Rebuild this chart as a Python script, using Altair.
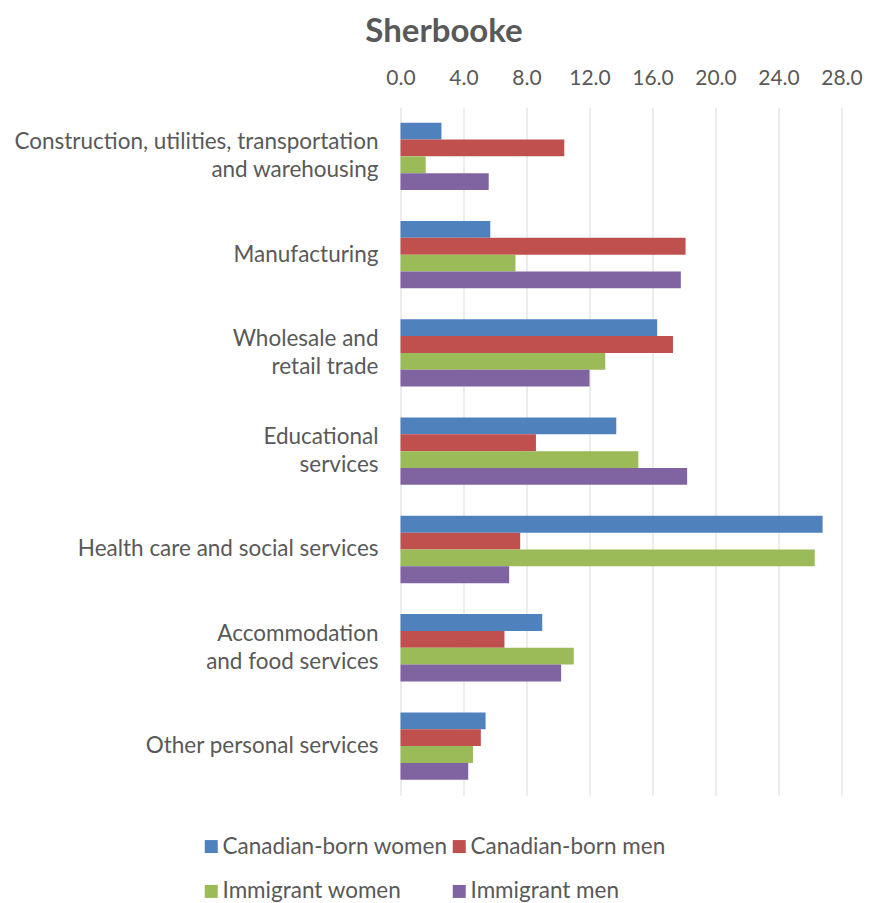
import altair as alt
import pandas as pd

categories = [
    "Construction, utilities, transportation\nand warehousing",
    "Manufacturing",
    "Wholesale and\nretail trade",
    "Educational\nservices",
    "Health care and social services",
    "Accommodation\nand food services",
    "Other personal services",
]
series = ["Canadian-born women", "Canadian-born men", "Immigrant women", "Immigrant men"]
colors = ["#4F81BD", "#C0504D", "#9BBB59", "#8064A2"]

cb_women = [2.6, 5.7, 16.3, 13.7, 26.8, 9.0, 5.4]
cb_men = [10.4, 18.1, 17.3, 8.6, 7.6, 6.6, 5.1]
imm_women = [1.6, 7.3, 13.0, 15.1, 26.3, 11.0, 4.6]
imm_men = [5.6, 17.8, 12.0, 18.2, 6.9, 10.2, 4.3]
x_ticks = [0, 4, 8, 12, 16, 20, 24, 28]

rows = []
for s, vals in zip(series, [cb_women, cb_men, imm_women, imm_men]):
    for c, v in zip(categories, vals):
        rows.append({"category": c, "series": s, "value": v})
df = pd.DataFrame(rows)

FONT = "Lato"
TXT = "#595959"

chart = (
    alt.Chart(df)
    .mark_bar()
    .encode(
        x=alt.X(
            "value:Q",
            scale=alt.Scale(domain=[0, 28], nice=False),
            axis=alt.Axis(
                orient="top",
                values=x_ticks,
                format=".1f",
                title=None,
                domain=False,
                ticks=False,
                tickSize=0,
                labelFlush=False,
                labelOverlap=False,
                labelPadding=23,
                labelBaseline="alphabetic",
                labelFontSize=21,
                labelColor=TXT,
                labelFont=FONT,
                grid=True,
                gridColor="#D9D9D9",
                gridWidth=1,
            ),
        ),
        y=alt.Y(
            "category:N",
            sort=categories,
            scale=alt.Scale(paddingInner=0.315, paddingOuter=0.1575),
            axis=alt.Axis(
                title=None,
                domain=False,
                ticks=False,
                tickSize=0,
                grid=False,
                labelExpr="split(datum.label, '\\n')",
                labelOffset={"condition": {"test": "indexof(datum.label, '\\n') >= 0", "value": -14}, "value": 0},
                labelPadding=22.5,
                labelFontSize=22.5,
                labelLineHeight=28,
                labelColor=TXT,
                labelFont=FONT,
                labelLimit=500,
            ),
        ),
        yOffset=alt.YOffset("series:N", sort=series, scale=alt.Scale(paddingInner=0, paddingOuter=0)),
        color=alt.Color(
            "series:N",
            sort=series,
            scale=alt.Scale(domain=series, range=colors),
            legend=alt.Legend(
                title=None,
                orient="none",
                legendX=-200.5,
                legendY=728,
                columns=2,
                direction="horizontal",
                symbolType="square",
                symbolSize=169,
                symbolStrokeWidth=0,
                labelFontSize=22.5,
                labelFont=FONT,
                labelColor=TXT,
                labelOffset=0,
                rowPadding=22,
                columnPadding=-3,
                padding=0,
                labelLimit=400,
            ),
        ),
    )
    .properties(
        width=441,
        height=688,
        autosize=alt.AutoSizeParams(type="none"),
        padding={"left": 392.5, "top": 99.2, "right": 26, "bottom": 110},
        title=alt.TitleParams(
            "Sherbooke",
            font=FONT,
            fontSize=33,
            fontWeight="bold",
            color=TXT,
            anchor="middle",
            frame="group",
            dx=-177,
            offset=18,
        ),
    )
    .configure_view(stroke=None)
)

chart.save("out.html", embed_options={"renderer": "svg", "actions": False})
